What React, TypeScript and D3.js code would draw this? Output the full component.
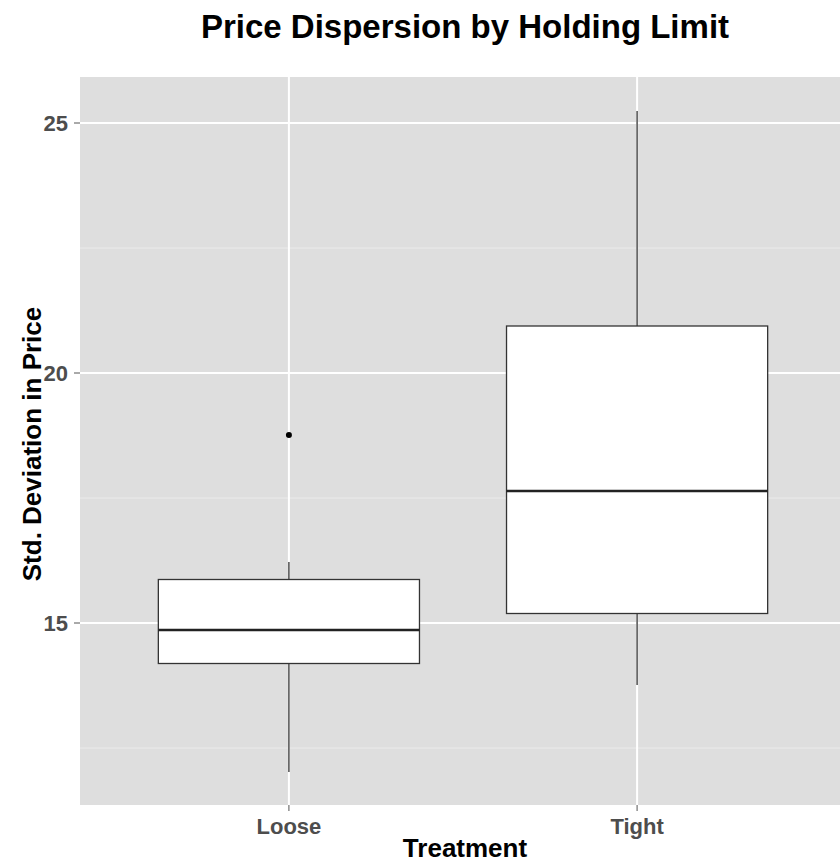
import React from "react";
import * as d3 from "d3";

const categories = ["Loose", "Tight"];
const q1 = [14.19, 15.19];
const medians = [14.86, 17.64];
const q3 = [15.87, 20.94];
const whiskerLow = [12.02, 13.76];
const whiskerHigh = [16.22, 25.24];
const outliers = [{ cat: "Loose", value: 18.76 }];
const yTicks = [15, 20, 25];
const yMinor = [12.5, 17.5, 22.5];

const W = 840;
const H = 863;
const left = 80;
const top = 77;
const bottom = 805;
const right = 846;

export default function App() {
  const y = d3.scaleLinear().domain([11.36, 25.92]).range([bottom, top]);
  // ggplot-style discrete expansion (0.6 units on each side)
  const x = d3
    .scaleLinear()
    .domain([-0.6, categories.length - 1 + 0.6])
    .range([left, right]);
  const unit = x(1) - x(0);
  const cx = (c: string) => x(categories.indexOf(c));
  const bw = 0.75 * unit;
  const font = "'Liberation Sans', Arial, Helvetica, sans-serif";
  return (
    <svg width={W} height={H} style={{ display: "block", position: "absolute", left: 0, top: 0 }} fontFamily={font}>
      <rect x={0} y={0} width={W} height={H} fill="#fff" />
      <text x={465} y={38} textAnchor="middle" fontSize={33} fontWeight="bold" fill="#000">
        Price Dispersion by Holding Limit
      </text>
      <rect x={left} y={top} width={right - left} height={bottom - top} fill="#dedede" />
      {yMinor.map((v) => (
        <line key={"m" + v} x1={left} x2={right} y1={y(v)} y2={y(v)} stroke="#ebebeb" strokeWidth={1} />
      ))}
      {yTicks.map((v) => (
        <line key={"g" + v} x1={left} x2={right} y1={y(v)} y2={y(v)} stroke="#fff" strokeWidth={2} />
      ))}
      {categories.map((c) => (
        <line key={"gx" + c} x1={cx(c)} x2={cx(c)} y1={top} y2={bottom} stroke="#fff" strokeWidth={2} />
      ))}
      {categories.map((c, i) => {
        const xc = cx(c);
        return (
          <g key={c}>
            <line x1={xc} x2={xc} y1={y(q3[i])} y2={y(whiskerHigh[i])} stroke="#333" strokeWidth={1.3} />
            <line x1={xc} x2={xc} y1={y(q1[i])} y2={y(whiskerLow[i])} stroke="#333" strokeWidth={1.3} />
            <rect x={xc - bw / 2} y={y(q3[i])} width={bw} height={y(q1[i]) - y(q3[i])} fill="#fff" stroke="#333" strokeWidth={1.3} />
            <line x1={xc - bw / 2} x2={xc + bw / 2} y1={y(medians[i])} y2={y(medians[i])} stroke="#222" strokeWidth={2.6} />
          </g>
        );
      })}
      {outliers.map((o, i) => (
        <circle key={i} cx={cx(o.cat)} cy={y(o.value)} r={3} fill="#000" />
      ))}
      {yTicks.map((v) => (
        <g key={"t" + v}>
          <line x1={74} x2={left} y1={y(v)} y2={y(v)} stroke="#555" strokeWidth={1} />
          <text x={68} y={y(v)} dy="0.36em" textAnchor="end" fontSize={22} fontWeight="bold" fill="#4d4d4d">
            {v}
          </text>
        </g>
      ))}
      {categories.map((c) => (
        <g key={"xt" + c}>
          <line x1={cx(c)} x2={cx(c)} y1={bottom} y2={bottom + 6} stroke="#555" strokeWidth={1} />
          <text x={cx(c)} y={834} textAnchor="middle" fontSize={22} fontWeight="bold" fill="#4d4d4d">
            {c}
          </text>
        </g>
      ))}
      <text x={465} y={857} textAnchor="middle" fontSize={26} fontWeight="bold" fill="#000">
        Treatment
      </text>
      <text transform={`translate(41, 444) rotate(-90)`} textAnchor="middle" fontSize={26} fontWeight="bold" fill="#000">
        Std. Deviation in Price
      </text>
    </svg>
  );
}
